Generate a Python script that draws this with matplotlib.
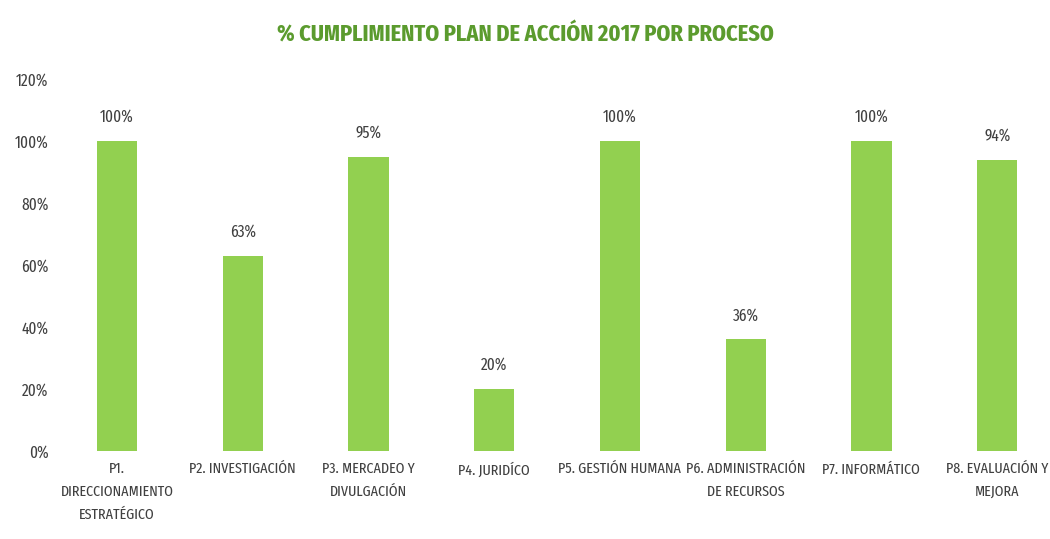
import matplotlib.pyplot as plt
from matplotlib.ticker import PercentFormatter

# datos del grafico
procesos = ["P1.\nDIRECCIONAMIENTO\nESTRATÉGICO", "P2. INVESTIGACIÓN", "P3. MERCADEO Y\nDIVULGACIÓN",
            "P4. JURIDÍCO", "P5. GESTIÓN HUMANA", "P6. ADMINISTRACIÓN\nDE RECURSOS",
            "P7. INFORMÁTICO", "P8. EVALUACIÓN Y\nMEJORA"]
cumplimiento = [100, 63, 95, 20, 100, 36, 100, 94]

plt.rcParams['font.family'] = ['Fira Sans Extra Condensed', 'DejaVu Sans']
gris = '#404040'

fig = plt.figure(figsize=(10.5, 5.39), dpi=100)
ax = fig.add_axes([54 / 1050, 88 / 539, 996 / 1050, 372 / 539])

x = range(len(procesos))
barras = ax.bar(x, cumplimiento, width=0.32, color='#92d050')
for b, v in zip(barras, cumplimiento):
    ax.text(b.get_x() + b.get_width() / 2, v + 5, f"{v}%", ha='center', va='bottom',
            fontsize=12, color=gris)

ax.set_ylim(0, 120)
ax.set_yticks(range(0, 121, 20))
ax.yaxis.set_major_formatter(PercentFormatter(decimals=0))
ax.set_xlim(-0.5, 7.42)
ax.set_xticks(list(x))
ax.set_xticklabels(procesos, fontsize=11, color=gris, linespacing=1.75, va='top')
ax.tick_params(axis='y', labelsize=12, labelcolor=gris, length=0, pad=4)
ax.tick_params(axis='x', length=0, pad=8)
for s in ax.spines.values():
    s.set_visible(False)

fig.text(0.5, 0.935, "% CUMPLIMIENTO PLAN DE ACCIÓN 2017 POR PROCESO", ha='center', va='center',
         fontsize=17.5, fontweight='bold', color='#5b9b2e')

fig.savefig('out.png', dpi=100)
